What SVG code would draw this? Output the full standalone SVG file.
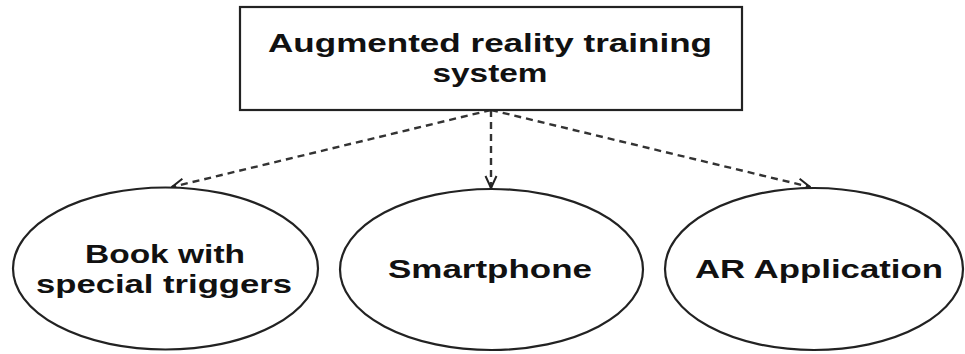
<svg xmlns="http://www.w3.org/2000/svg" width="965" height="354" viewBox="0 0 965 354">
  <defs>
    <style>
      .box { fill: #ffffff; stroke: #222222; stroke-width: 2.2; }
      .oval { fill: #ffffff; stroke: #222222; stroke-width: 2.2; }
      .label { font-family: "Liberation Sans", Arial, sans-serif; font-weight: bold; font-size: 26px; fill: #111111; text-anchor: middle; }
      .link { fill: none; stroke: #333333; stroke-width: 2.4; stroke-dasharray: 7 5; }
    </style>
    <marker id="openArrow" viewBox="0 0 14 14" refX="13" refY="7" markerWidth="14" markerHeight="14" markerUnits="userSpaceOnUse" orient="auto">
      <path d="M1,1.5 L13,7 L1,12.5" fill="none" stroke="#222222" stroke-width="2"/>
    </marker>
  </defs>
  <rect width="965" height="354" fill="#ffffff"/>

  <g id="connectors">
    <line class="link" x1="491" y1="110" x2="172" y2="187" marker-end="url(#openArrow)"/>
    <line class="link" x1="491" y1="110" x2="491" y2="188" marker-end="url(#openArrow)"/>
    <line class="link" x1="491" y1="110" x2="810" y2="187" marker-end="url(#openArrow)"/>
  </g>

  <g id="node-system">
    <rect class="box" x="240" y="7" width="502" height="103"/>
    <text class="label" x="490" y="52" textLength="444" lengthAdjust="spacingAndGlyphs">Augmented reality training</text>
    <text class="label" x="490" y="82" textLength="115" lengthAdjust="spacingAndGlyphs">system</text>
  </g>

  <g id="node-book">
    <ellipse class="oval" cx="165.5" cy="268.5" rx="152.5" ry="81"/>
    <text class="label" x="165" y="263" textLength="160" lengthAdjust="spacingAndGlyphs">Book with</text>
    <text class="label" x="164" y="293" textLength="256" lengthAdjust="spacingAndGlyphs">special triggers</text>
  </g>

  <g id="node-smartphone">
    <ellipse class="oval" cx="491.5" cy="269.5" rx="151.5" ry="80.5"/>
    <text class="label" x="490" y="278" textLength="204" lengthAdjust="spacingAndGlyphs">Smartphone</text>
  </g>

  <g id="node-app">
    <ellipse class="oval" cx="814" cy="269" rx="149" ry="81"/>
    <text class="label" x="819" y="278" textLength="248" lengthAdjust="spacingAndGlyphs">AR Application</text>
  </g>
</svg>
